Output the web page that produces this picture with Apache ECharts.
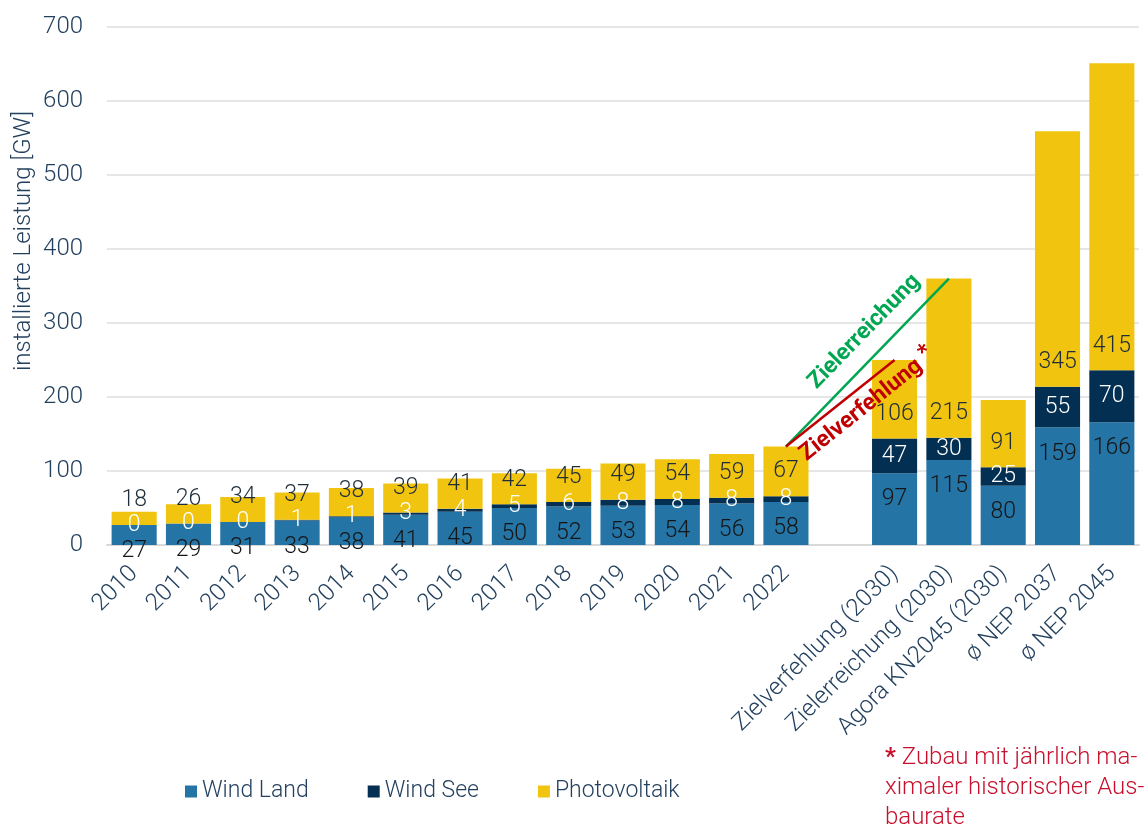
<!DOCTYPE html>
<html>
<head>
<meta charset="utf-8">
<script src="https://cdn.jsdelivr.net/npm/echarts@6/dist/echarts.min.js"></script>
<style>
  html, body { margin: 0; padding: 0; background: #fff; }
  #chart { width: 1145px; height: 825px; }
</style>
</head>
<body>
<div id="chart"></div>
<script>
// Kategorien (leere Kategorie als Abstand zwischen Historie und Szenarien)
const categories = ['2010', '2011', '2012', '2013', '2014', '2015', '2016', '2017', '2018', '2019', '2020', '2021', '2022', '',
  'Zielverfehlung (2030)', 'Zielerreichung (2030)', 'Agora KN2045 (2030)', 'ø NEP 2037', 'ø NEP 2045'];
const windLand = [27, 29, 31, 33, 38, 41, 45, 50, 52, 53, 54, 56, 58, null, 97, 115, 80, 159, 166];
const windSee = [0, 0, 0, 1, 1, 3, 4, 5, 6, 8, 8, 8, 8, null, 47, 30, 25, 55, 70];
const photovoltaik = [18, 26, 34, 37, 38, 39, 41, 42, 45, 49, 54, 59, 67, null, 106, 215, 91, 345, 415];
const yTicks = [0, 100, 200, 300, 400, 500, 600, 700];

const FONT = 'Roboto';
const TEXT = '#23415f';

// Summe je Kategorie fuer die Ziellinien
const total = i => (windLand[i] || 0) + (windSee[i] || 0) + (photovoltaik[i] || 0);
const iStart = categories.indexOf('2022');
const iFail = categories.indexOf('Zielverfehlung (2030)');
const iReach = categories.indexOf('Zielerreichung (2030)');

const chart = echarts.init(document.getElementById('chart'));

const baseLabel = {
  show: true,
  fontFamily: FONT,
  fontWeight: 300,
  fontSize: 23,
};

chart.setOption({
  animation: false,
  textStyle: { fontFamily: FONT },
  grid: { left: 107, right: 6, top: 27, bottom: 280, containLabel: false },
  legend: {
    left: 180,
    top: 775,
    itemWidth: 12,
    itemHeight: 12,
    itemGap: 59,
    icon: 'rect',
    selectedMode: false,
    textStyle: { fontFamily: FONT, fontWeight: 300, fontSize: 23, color: TEXT },
    data: ['Wind Land', 'Wind See', 'Photovoltaik'],
  },
  xAxis: {
    type: 'category',
    data: categories,
    axisTick: { show: false },
    axisLine: { show: true, lineStyle: { color: '#d9d9d9', width: 2 } },
    axisLabel: {
      interval: 0,
      rotate: 45,
      margin: 25,
      fontFamily: FONT,
      fontWeight: 300,
      fontSize: 24,
      color: TEXT,
    },
  },
  yAxis: {
    type: 'value',
    min: yTicks[0],
    max: yTicks[yTicks.length - 1],
    interval: yTicks[1] - yTicks[0],
    axisLine: { show: false },
    axisTick: { show: false },
    splitLine: { lineStyle: { color: '#e6e6e6', width: 2 } },
    axisLabel: {
      margin: 24,
      fontFamily: FONT,
      fontWeight: 300,
      fontSize: 24,
      color: TEXT,
    },
  },
  graphic: [
    {
      type: 'text',
      x: 24,
      y: 241,
      rotation: Math.PI / 2,
      style: {
        text: 'installierte Leistung [GW]',
        font: '300 24px Roboto',
        fill: TEXT,
        align: 'center',
        verticalAlign: 'middle',
      },
    },
    {
      type: 'text',
      left: 885,
      top: 743,
      style: {
        text: '{b|*} Zubau mit jährlich ma-\nximaler historischer Aus-\nbaurate',
        fill: '#c8102e',
        font: '300 24px Roboto',
        lineHeight: 30,
        rich: {
          b: { fontWeight: 'bold', fontSize: 24, fill: '#c8102e', fontFamily: FONT },
        },
      },
    },
  ],
  series: [
    {
      name: 'Wind Land',
      type: 'bar',
      stack: 'leistung',
      barCategoryGap: '17%',
      itemStyle: { color: '#2474a6' },
      label: Object.assign({}, baseLabel, { position: 'insideTop', distance: 15, color: '#151515' }),
      data: windLand,
    },
    {
      name: 'Wind See',
      type: 'bar',
      stack: 'leistung',
      itemStyle: { color: '#022f52' },
      label: Object.assign({}, baseLabel, { position: 'inside', color: '#ffffff' }),
      data: windSee,
    },
    {
      name: 'Photovoltaik',
      type: 'bar',
      stack: 'leistung',
      itemStyle: { color: '#f1c40f' },
      label: Object.assign({}, baseLabel, { position: 'insideBottom', distance: 13, color: '#1f2d3a' }),
      data: photovoltaik,
      markLine: {
        silent: true,
        symbol: 'none',
        data: [
          [
            {
              coord: [categories[iStart], total(iStart)],
              lineStyle: { color: '#00a651', width: 2.5, type: 'solid' },
              label: {
                show: true,
                position: 'insideEndTop',
                formatter: 'Zielerreichung',
                color: '#00a651',
                fontFamily: FONT,
                fontWeight: 'bold',
                fontSize: 23,
                distance: [22, 12],
              },
            },
            { coord: [categories[iReach], total(iReach)] },
          ],
          [
            {
              coord: [categories[iStart], total(iStart)],
              lineStyle: { color: '#c00000', width: 2.5, type: 'solid' },
              label: {
                show: true,
                position: 'insideStartBottom',
                formatter: 'Zielverfehlung {s|*}',
                color: '#c00000',
                fontFamily: FONT,
                fontWeight: 'bold',
                fontSize: 23,
                distance: [7, 2],
                rich: { s: { fontSize: 23, fontWeight: 'bold', color: '#c00000', padding: [0, 0, 10, 0] } },
              },
            },
            { coord: [categories[iFail], total(iFail)] },
          ],
        ],
      },
    },
  ],
});
</script>
</body>
</html>
